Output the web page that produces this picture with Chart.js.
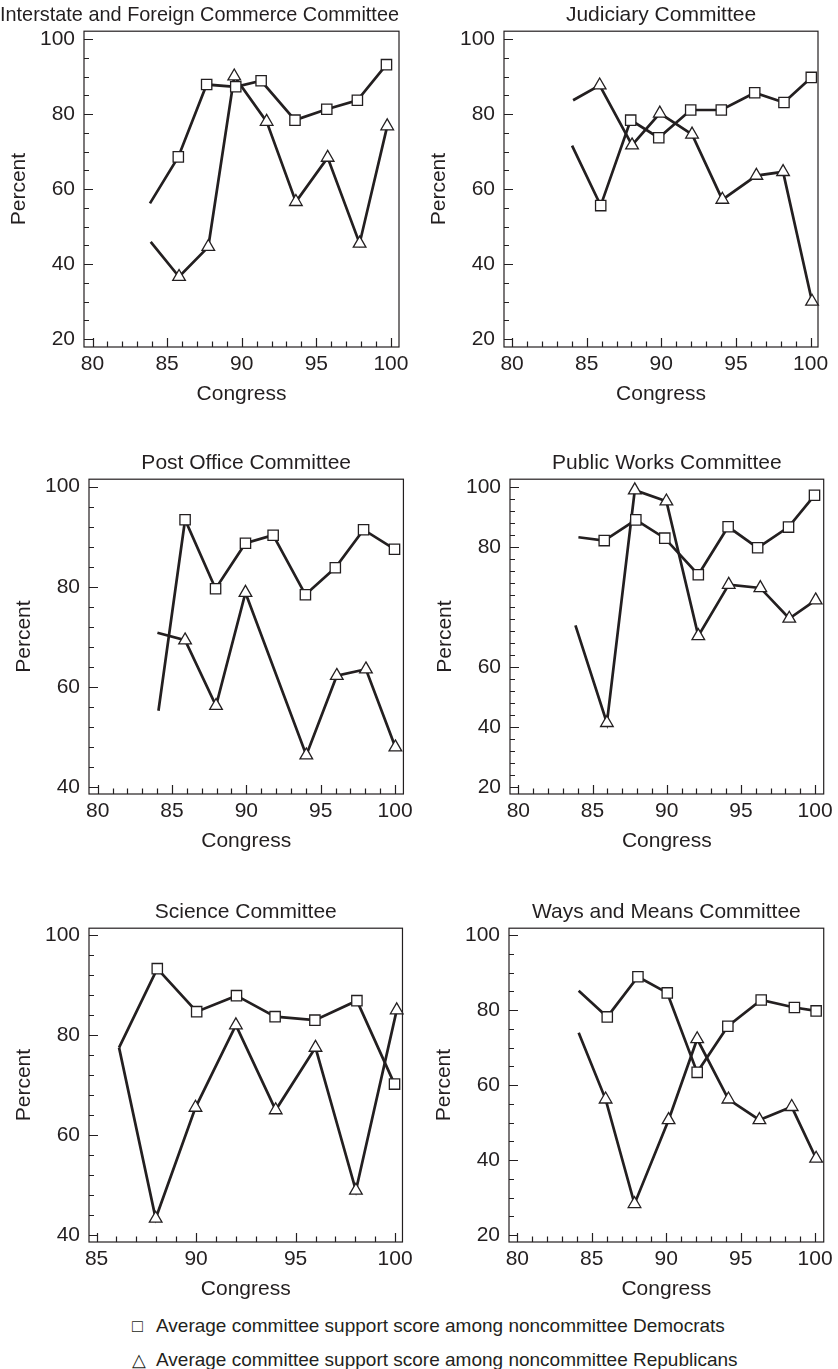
<!DOCTYPE html>
<html>
<head>
<meta charset="utf-8">
<script src="https://cdn.jsdelivr.net/npm/chart.js@4.4.1/dist/chart.umd.min.js"></script>
<style>
body { margin: 0; width: 838px; height: 1369px; overflow: hidden; background: #fff; position: relative;
       font-family: "Liberation Sans", Arial, sans-serif; color: #231f20; }
canvas { position: absolute; }
.leg { position: absolute; left: 132px; font-size: 19px; line-height: 20px; white-space: nowrap; }
.leg span { display: inline-block; width: 24px; font-size: 18px; }
</style>
</head>
<body>
<canvas id="c1" style="left:0px;top:-9px" width="422" height="428"></canvas>
<canvas id="c2" style="left:420px;top:-9px" width="418" height="428"></canvas>
<canvas id="c3" style="left:5px;top:439px" width="413" height="427"></canvas>
<canvas id="c4" style="left:426px;top:439px" width="412" height="427"></canvas>
<canvas id="c5" style="left:5px;top:888px" width="413" height="426"></canvas>
<canvas id="c6" style="left:425px;top:888px" width="413" height="426"></canvas>
<div class="leg" style="top:1316px"><span>&#9633;</span>Average committee support score among noncommittee Democrats</div>
<div class="leg" style="top:1350px"><span>&#9651;</span>Average committee support score among noncommittee Republicans</div>
<script>
var ink = '#231f20'
var fam = '"Liberation Sans", Arial, sans-serif'
var fs = 21

// tick labels
var xTicks80 = [80, 85, 90, 95, 100]
var xTicks85 = [85, 90, 95, 100]
var yTicks20 = [20, 40, 60, 80, 100]
var yTicks40 = [40, 60, 80, 100]

// Interstate and Foreign Commerce Committee
var interDemX = [83.85, 85.75, 87.65, 89.6, 91.3, 93.57, 95.7, 97.75, 99.7]
var interDem  = [56.2, 68.6, 87.9, 87.3, 88.9, 78.4, 81.3, 83.7, 93.2]
var interRepX = [83.9, 85.8, 87.76, 89.5, 91.67, 93.63, 95.76, 97.9, 99.75]
var interRep  = [45.9, 36.6, 44.6, 90.1, 78.0, 56.6, 68.4, 45.5, 76.8]

// Judiciary Committee
var judDemX = [84.02, 85.94, 87.95, 89.83, 91.97, 94.02, 96.26, 98.22, 100.05]
var judDem  = [71.6, 55.6, 78.4, 73.7, 81.1, 81.1, 85.7, 83.1, 89.8]
var judRepX = [84.09, 85.87, 88.04, 89.9, 92.06, 94.09, 96.37, 98.16, 100.1]
var judRep  = [83.7, 87.7, 71.7, 80.2, 74.6, 57.2, 63.6, 64.6, 30.0]

// Post Office Committee
var postDemX = [84.09, 85.88, 87.93, 89.94, 91.8, 93.97, 95.98, 97.88, 99.96]
var postDem  = [55.2, 93.4, 79.6, 88.7, 90.3, 78.4, 83.8, 91.4, 87.5]
var postRepX = [84.02, 85.88, 87.96, 89.94, 94.03, 96.08, 98.04, 100.02]
var postRep  = [70.8, 69.3, 56.2, 78.8, 46.3, 62.2, 63.5, 47.9]

// Public Works Committee (its axis is printed with uneven labels:
// values here are positions on the evenly spaced axis, labels below)
var pubDemX = [84.05, 85.79, 87.92, 89.87, 92.13, 94.14, 96.13, 98.21, 99.96]
var pubDem  = [83.2, 82.1, 89.0, 82.9, 70.7, 86.7, 79.7, 86.6, 97.2]
var pubRepX = [83.85, 85.97, 87.85, 89.98, 92.13, 94.18, 96.31, 98.26, 100.04]
var pubRep  = [53.8, 21.3, 98.9, 95.2, 50.3, 67.4, 66.3, 56.1, 62.2]
var pubTickVals   = [0, 20, 40, 80, 100]
var pubTickLabels = ['20', '40', '60', '80', '100']

// Science Committee
var sciDemX = [86.13, 88.05, 90.03, 92.03, 93.97, 95.97, 98.08, 99.97]
var sciDem  = [77.5, 93.3, 84.7, 87.9, 83.7, 83.0, 86.9, 70.2]
var sciRepX = [86.13, 87.97, 89.97, 92.0, 94.0, 96.0, 98.03, 100.08]
var sciRep  = [77.5, 43.3, 65.5, 82.0, 65.0, 77.5, 48.9, 85.0]

// Ways and Means Committee
var waysDemX = [84.12, 86.04, 88.1, 90.07, 92.08, 94.14, 96.38, 98.61, 100.07]
var waysDem  = [85.2, 78.2, 88.9, 84.6, 63.4, 75.7, 82.7, 80.7, 79.8]
var waysRepX = [84.12, 85.93, 87.87, 90.16, 92.08, 94.18, 96.26, 98.43, 100.07]
var waysRep  = [74.0, 56.2, 28.3, 50.7, 72.3, 56.2, 50.7, 54.2, 40.4]

// frame + inward tick marks
var frameTicks = {
  id: 'frameTicks',
  beforeDatasetsDraw: function(chart, args, o) {
    var ctx = chart.ctx, a = chart.chartArea
    var xs = chart.scales.x, ys = chart.scales.y
    ctx.save()
    ctx.strokeStyle = ink
    ctx.lineWidth = 1.2
    ctx.beginPath()
    for (var v = o.xFrom; v <= o.xTo + 0.001; v += 1) {
      var px = Math.round(xs.getPixelForValue(v)) + 0.5
      var len = o.xMajor.indexOf(v) >= 0 ? 9 : 5.5
      ctx.moveTo(px, a.bottom)
      ctx.lineTo(px, a.bottom - len)
    }
    for (var w = o.yFrom; w <= o.yTo + 0.001; w += o.yStep) {
      var py = Math.round(ys.getPixelForValue(w)) + 0.5
      var l2 = o.yMajor.indexOf(w) >= 0 ? 9 : 5
      ctx.moveTo(a.left, py)
      ctx.lineTo(a.left + l2, py)
    }
    ctx.stroke()
    ctx.strokeRect(a.left, a.top, a.right - a.left, a.bottom - a.top)
    ctx.restore()
  }
}

function series(xs, ys, style) {
  return {
    data: xs.map(function(x, i) { return { x: x, y: ys[i] } }),
    borderColor: ink,
    borderWidth: 2.7,
    tension: 0,
    fill: false,
    clip: false,
    pointStyle: style,
    pointRadius: function(c) { return c.dataIndex === 0 ? 0 : 7.3 },
    pointBackgroundColor: '#fff',
    pointBorderColor: ink,
    pointBorderWidth: 1.3
  }
}

function panel(id, p) {
  var yVals = p.yVals
  var yLabels = p.yLabels
  new Chart(document.getElementById(id), {
    type: 'line',
    data: { datasets: [series(p.demX, p.dem, 'rect'), series(p.repX, p.rep, 'triangle')] },
    plugins: [frameTicks],
    options: {
      responsive: false,
      animation: false,
      layout: { padding: { left: 0, right: p.padRight, top: 0, bottom: 0 } },
      plugins: {
        legend: { display: false },
        tooltip: { enabled: false },
        title: { display: true, text: p.title, fullSize: p.full, color: ink,
                 font: { size: fs, family: fam, weight: 'normal' }, padding: { top: 12, bottom: 3 } },
        frameTicks: { xFrom: p.xMajor[0], xTo: 100, xMajor: p.xMajor,
                      yFrom: yVals[0], yTo: 100, yStep: p.yStep, yMajor: yVals }
      },
      scales: {
        x: {
          type: 'linear', min: p.xMin, max: p.xMax,
          grid: { display: false, drawTicks: false }, border: { display: false },
          afterBuildTicks: function(s) { s.ticks = p.xMajor.map(function(v) { return { value: v } }) },
          afterFit: function(s) { s.height = 72 },
          ticks: { color: ink, font: { size: fs, family: fam }, padding: 5, maxRotation: 0, autoSkip: false },
          title: { display: true, text: 'Congress', color: ink, font: { size: fs, family: fam },
                   padding: { top: 0, bottom: 12 } }
        },
        y: {
          type: 'linear', min: p.yMin, max: p.yMax,
          grid: { display: false, drawTicks: false }, border: { display: false },
          afterBuildTicks: function(s) { s.ticks = yVals.map(function(v) { return { value: v } }) },
          afterFit: function(s) { s.width = 84 },
          ticks: { color: ink, font: { size: fs, family: fam }, padding: 9, autoSkip: false,
                   callback: function(v, i) { return yLabels[i] } },
          title: { display: true, text: 'Percent', color: ink, font: { size: fs, family: fam },
                   padding: { top: 7, bottom: 0 } }
        }
      }
    }
  })
}

panel('c1', { title: 'Interstate and Foreign Commerce Committee', full: true, padRight: 23,
  xMin: 79.43, xMax: 100.54, xMajor: xTicks80, yMin: 17.87, yMax: 102.13,
  yVals: yTicks20, yLabels: yTicks20.map(String), yStep: 5,
  demX: interDemX, dem: interDem, repX: interRepX, rep: interRep })

panel('c2', { title: 'Judiciary Committee', full: false, padRight: 20,
  xMin: 79.46, xMax: 100.5, xMajor: xTicks80, yMin: 17.87, yMax: 102.13,
  yVals: yTicks20, yLabels: yTicks20.map(String), yStep: 5,
  demX: judDemX, dem: judDem, repX: judRepX, rep: judRep })

panel('c3', { title: 'Post Office Committee', full: false, padRight: 14,
  xMin: 79.42, xMax: 100.56, xMajor: xTicks80, yMin: 38.55, yMax: 101.5,
  yVals: yTicks40, yLabels: yTicks40.map(String), yStep: 4,
  demX: postDemX, dem: postDem, repX: postRepX, rep: postRep })

panel('c4', { title: 'Public Works Committee', full: false, padRight: 13,
  xMin: 79.44, xMax: 100.58, xMajor: xTicks80, yMin: -2.43, yMax: 102.57,
  yVals: pubTickVals, yLabels: pubTickLabels, yStep: 4,
  demX: pubDemX, dem: pubDem, repX: pubRepX, rep: pubRep })

panel('c5', { title: 'Science Committee', full: false, padRight: 14,
  xMin: 84.62, xMax: 100.37, xMajor: xTicks85, yMin: 38.6, yMax: 101.4,
  yVals: yTicks40, yLabels: yTicks40.map(String), yStep: 4,
  demX: sciDemX, dem: sciDem, repX: sciRepX, rep: sciRep })

panel('c6', { title: 'Ways and Means Committee', full: false, padRight: 14,
  xMin: 79.44, xMax: 100.58, xMajor: xTicks80, yMin: 18.13, yMax: 101.87,
  yVals: yTicks20, yLabels: yTicks20.map(String), yStep: 5,
  demX: waysDemX, dem: waysDem, repX: waysRepX, rep: waysRep })
</script>
</body>
</html>
